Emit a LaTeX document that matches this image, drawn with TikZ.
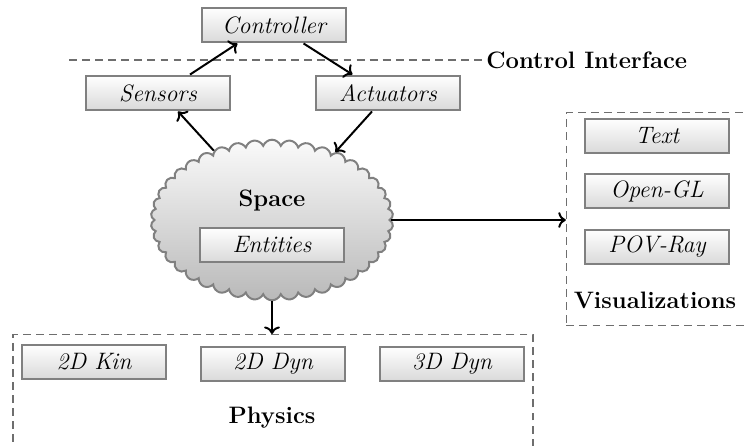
\documentclass[tikz,border=0pt]{standalone}
\usepackage{xcolor}
\definecolor{boxgray}{RGB}{128,128,128}
\definecolor{dashgray}{RGB}{110,110,110}
\usepackage{tikz}
\usetikzlibrary{shapes.symbols, arrows.meta, positioning, calc}
\tikzset{
  comp/.style={
    rectangle, draw=boxgray, line width=1pt, top color=white, bottom color=gray!30,
    minimum width=2.54cm, minimum height=0.62cm, inner sep=0pt,
    align=center, font=\large\itshape},
  spacecloud/.style={
    cloud, cloud puffs=42, cloud puff arc=140, aspect=1.5,
    draw=boxgray, line width=1pt, top color=gray!4, bottom color=gray!55,
    minimum width=4.3cm, minimum height=2.85cm, inner sep=0pt},
  grpbox/.style={
    rectangle, draw=dashgray, line width=0.6pt, dash pattern=on 4pt off 2.6pt,
    inner sep=0pt},
  grplabel/.style={font=\large\bfseries, inner sep=1pt},
  dashline/.style={draw=dashgray, line width=0.6pt, dash pattern=on 4pt off 2.6pt},
  arr/.style={->, line width=1pt, black},
}
\begin{document}
\begin{tikzpicture}[x=0.01775cm, y=-0.01775cm]
  \useasboundingbox (0,0) rectangle (747,445);
  % control interface
  \node[comp] (ctl)  at (274,25)  {Controller};
  \coordinate (ciL) at (69,60);
  \node[grplabel, anchor=west] (ctrl) at (484,60) {Control Interface};
  \draw[dashline] (ciL) -- (ciL -| ctrl.west);
  \node[comp] (sens) at (158,93)  {Sensors};
  \node[comp] (act)  at (388,93)  {Actuators};
  % space
  \node[spacecloud] (space) at (272,220) {};
  \node[grplabel] (spl) at (272,201) {Space};
  \node[comp] (ent) at (272,245) {Entities};
  % visualizations
  \node[grpbox, minimum width=3.5cm, minimum height=3.78cm] (viz) at (665,219) {};
  \node[comp] (txt) at (657,136) {Text};
  \node[comp] (ogl) at (657,191) {Open-GL};
  \node[comp] (pov) at (657,247) {POV-Ray};
  \node[grplabel] (vizl) at (655,300) {Visualizations};
  % physics
  \node[grpbox, minimum width=9.23cm, minimum height=2.5cm] (phys) at (273,405) {};
  \node[comp] (kin2) at (94,362)  {2D Kin};
  \node[comp] (dyn2) at (273,364) {2D Dyn};
  \node[comp] (dyn3) at (452,364) {3D Dyn};
  \node[grplabel] (physl) at (272,418) {Physics};
  % connectors
  \draw[arr] ($(sens.north)+(32,0)$) -- ($(ctl.south west)+(36,0)$);
  \draw[arr] ($(ctl.south east)+(-43,0)$) -- ($(act.north west)+(37,0)$);
  \draw[arr] (space.130) -- ($(sens.south)+(20,0)$);
  \draw[arr] ($(act.south)+(-16,0)$) -- (space.47);
  \draw[arr] (space.east) -- (space.east -| viz.west);
  \draw[arr] (space.south) -- (space.south |- phys.north);
\end{tikzpicture}
\end{document}
